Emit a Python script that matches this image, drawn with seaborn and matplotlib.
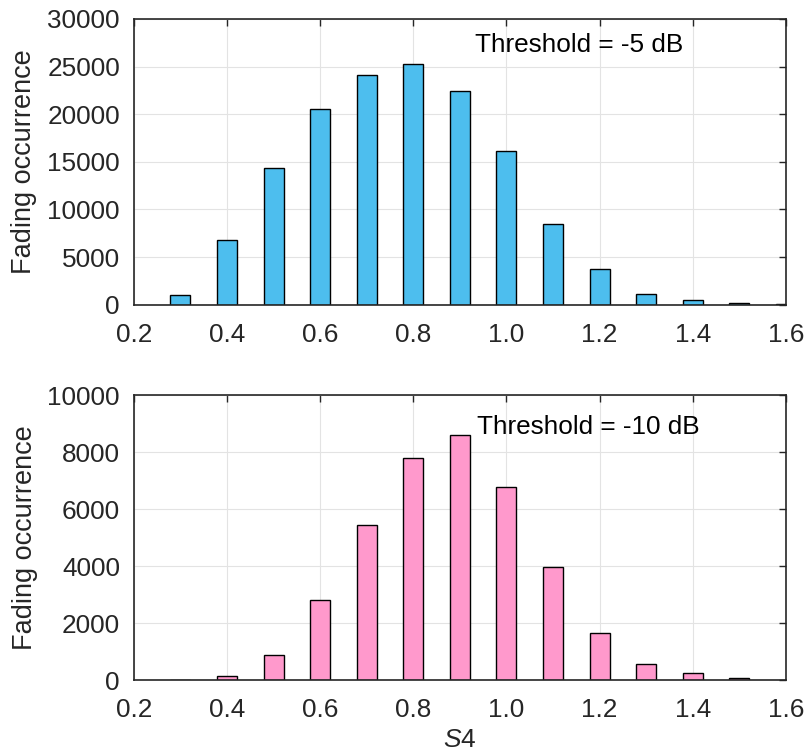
import matplotlib
matplotlib.use("Agg")
import matplotlib.pyplot as plt
import seaborn as sns
import pandas as pd

s4_top = [0.3, 0.4, 0.5, 0.6, 0.7, 0.8, 0.9, 1.0, 1.1, 1.2, 1.3, 1.4, 1.5, 1.6]
counts_top = [1050, 6800, 14300, 20500, 24100, 25300, 22400, 16100, 8500, 3700, 1100, 500, 150, 80]
s4_bot = [0.3, 0.4, 0.5, 0.6, 0.7, 0.8, 0.9, 1.0, 1.1, 1.2, 1.3, 1.4, 1.5]
counts_bot = [10, 150, 870, 2800, 5450, 7800, 8600, 6780, 3980, 1640, 560, 250, 80]
xticks = [0.2, 0.4, 0.6, 0.8, 1.0, 1.2, 1.4, 1.6]
xticklabels = ["0.2", "0.4", "0.6", "0.8", "1.0", "1.2", "1.4", "1.6"]
yticks_top = [0, 5000, 10000, 15000, 20000, 25000, 30000]
yticks_bot = [0, 2000, 4000, 6000, 8000, 10000]

sns.set_style("white")
plt.rcParams['font.family'] = ['Liberation Sans', 'DejaVu Sans']
plt.rcParams['mathtext.fontset'] = 'custom'
plt.rcParams['mathtext.it'] = 'Liberation Sans:italic'
plt.rcParams['mathtext.rm'] = 'Liberation Sans'

FS = 18.8
fig = plt.figure(figsize=(8.11, 7.56), dpi=100)
ax1 = fig.add_axes([0.165, 0.597, 0.804, 0.378])
ax2 = fig.add_axes([0.165, 0.1005, 0.804, 0.377])

def style(ax, yticks, ymax):
    ax.set_xlim(0.2, 1.6)
    ax.set_ylim(0, ymax)
    ax.set_xticks(xticks)
    ax.set_xticklabels(xticklabels)
    ax.set_yticks(yticks)
    ax.set_yticklabels([str(v) for v in yticks])
    ax.grid(True, color='#e3e3e3', linewidth=0.8)
    ax.set_axisbelow(True)
    ax.tick_params(direction='in', length=5, width=1, labelsize=FS, colors='#262626',
                   top=True, right=True)
    ax.tick_params(axis='x', pad=13)
    ax.tick_params(axis='y', pad=10)
    for sp in ax.spines.values():
        sp.set_visible(True)
        sp.set_color('#262626')
        sp.set_linewidth(1.2)
    ax.set_ylabel("Fading occurrence", fontsize=19.5, color='#262626', labelpad=7)

df1 = pd.DataFrame({"s4": s4_top, "n": counts_top})
df2 = pd.DataFrame({"s4": s4_bot, "n": counts_bot})
sns.barplot(data=df1, x="s4", y="n", native_scale=True, width=0.43, color='#4DBEEE',
            saturation=1, edgecolor='black', linewidth=1, ax=ax1)
sns.barplot(data=df2, x="s4", y="n", native_scale=True, width=0.43, color='#FF99CC',
            saturation=1, edgecolor='black', linewidth=1, ax=ax2)

style(ax1, yticks_top, 30000)
style(ax2, yticks_bot, 10000)
ax1.set_xlabel("")
ax2.set_xlabel(r"$\it{S}$4", fontsize=19, color='#262626', labelpad=4)

ax1.text(0.932, 27300, "Threshold = -5 dB", fontsize=FS, va='center', ha='left', color='black')
ax2.text(0.937, 8880, "Threshold = -10 dB", fontsize=FS, va='center', ha='left', color='black')

fig.savefig("out.png", dpi=100)
